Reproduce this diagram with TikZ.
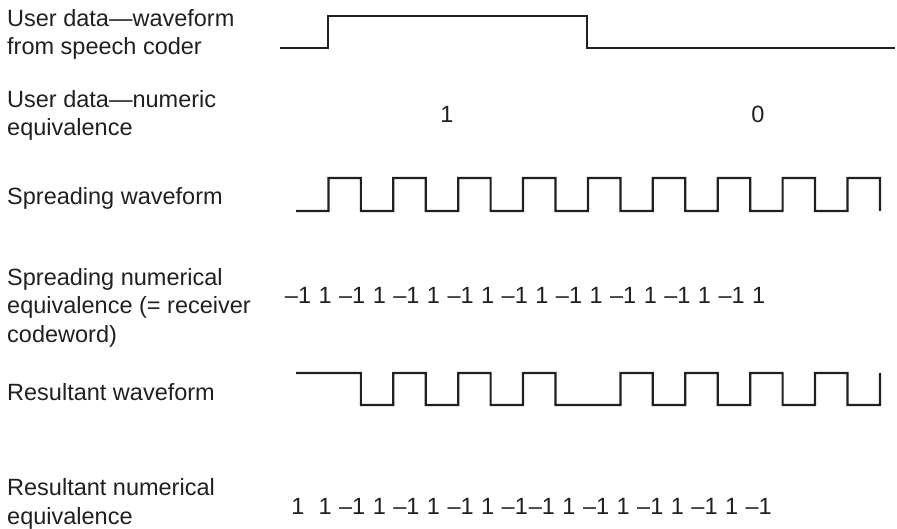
\documentclass[tikz,border=0pt]{standalone}
\usepackage{fontspec}
\setmainfont{Liberation Sans}
\definecolor{ink}{HTML}{231F20}

% chip values of the two coded rows
\def\spreadcode{-1,1,-1,1,-1,1,-1,1,-1,1,-1,1,-1,1,-1,1,-1,1}
\def\resultcode{1,1,-1,1,-1,1,-1,1,-1,-1,1,-1,1,-1,1,-1,1,-1}

\begin{document}
\begin{tikzpicture}[x=1pt, y=-1pt, font=\fontsize{23.5}{28.5}\selectfont]
    \tikzstyle{rowlabel} = [anchor=base west, align=left, inner sep=0pt, text=ink]
    \tikzstyle{num} = [anchor=base, inner sep=0pt, text=ink]
    \tikzstyle{wave} = [draw=ink, line width=2.2pt]

    \useasboundingbox (0,0) rectangle (897,529);

    % row labels (base = last line)
    \node [rowlabel] (userwave) at (7,55) {User data---waveform\\from speech coder};
    \node [rowlabel] (usernum) at (7,136) {User data---numeric\\equivalence};
    \node [rowlabel] (spreadwave) at (7,205) {Spreading waveform};
    \node [rowlabel] (spreadnum) at (7,342) {Spreading numerical\\equivalence (= receiver\\codeword)};
    \node [rowlabel] (resultwave) at (7,400) {Resultant waveform};
    \node [rowlabel] (resultnum) at (7,524) {Resultant numerical\\equivalence};

    % user data
    \draw [wave] (280,48) -- (328,48) -- (328,16) -- (587,16) -- (587,48) -- (895,48);
    \node [num] (bitone) at (447,123) {1};
    \node [num] (bitzero) at (758,123) {0};

    % spreading waveform
    \draw [wave] (296,211)
        \foreach \v [count=\i from 0] in \spreadcode {
            -- ({296+32.44*\i},{194.5-16.5*\v}) -- ({296+32.44*(\i+1)},{194.5-16.5*\v})
        } -- (879.9,211);
    \foreach \v [count=\i from 0] in \spreadcode
        \node [num] (sn\i) at ({298+27.1*\i},304) {\ifnum\v<0 –1\else 1\fi};

    % resultant waveform
    \draw [wave] (296,373)
        \foreach \v [count=\i from 0] in \resultcode {
            -- ({296+32.44*\i},{389-16*\v}) -- ({296+32.44*(\i+1)},{389-16*\v})
        } -- (879.9,373);
    \foreach \v [count=\i from 0] in \resultcode
        \node [num] (rn\i) at ({298+27.1*\i},514) {\ifnum\v<0 –1\else 1\fi};
\end{tikzpicture}
\end{document}
